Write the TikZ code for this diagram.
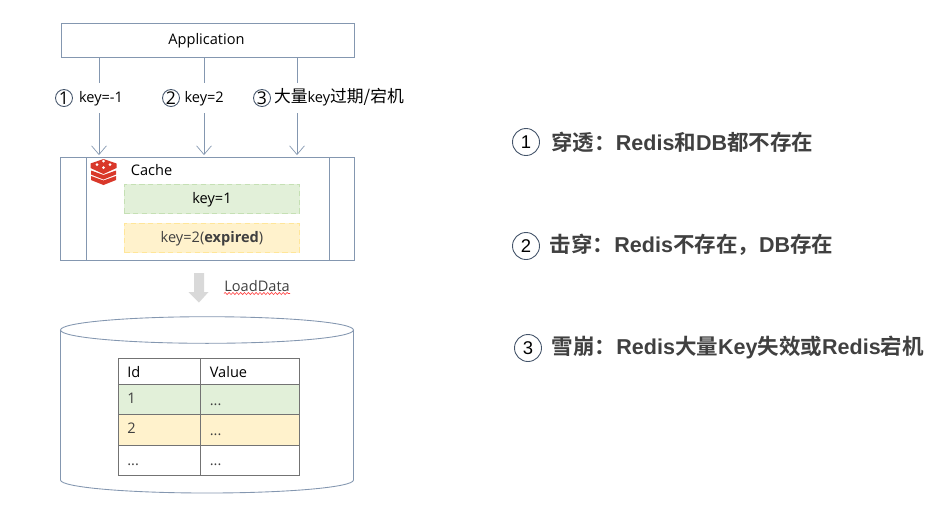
\documentclass[tikz,border=0pt]{standalone}
\usepackage{fontspec}
\setmainfont{Open Sans}
\newfontfamily\cjkfont[Scale=1.15]{Noto Sans CJK SC}
\newfontfamily\headfont{Liberation Sans}
\newfontfamily\cjkbold[BoldFont={* Bold}]{Noto Sans CJK SC}
\usetikzlibrary{arrows.meta,decorations.pathmorphing}

\definecolor{boxline}{HTML}{8497B0}
\definecolor{numline}{HTML}{44546A}
\definecolor{greenfill}{HTML}{E2F0D9}
\definecolor{yellowfill}{HTML}{FFF2CC}
\definecolor{greenedge}{HTML}{C5E0B4}
\definecolor{yellowedge}{HTML}{FFE699}
\definecolor{redislogo}{HTML}{D9382A}
\definecolor{headtext}{HTML}{404040}

\tikzset{
  frame/.style={draw=boxline,line width=0.5pt,fill=white,inner sep=0pt,outer sep=0pt},
  leaf/.style={draw,densely dashed,line width=0.35pt,inner sep=0pt,outer sep=0pt,minimum width=175.5*0.02cm,minimum height=29.5*0.02cm,text height=6.2pt,text depth=0.6pt},
  num/.style={circle,draw=numline,line width=0.5pt,inner sep=0pt,minimum size=17*0.02cm,font=\fontsize{10}{10}\selectfont},
  bignum/.style={num,minimum size=27*0.02cm,font=\headfont\fontsize{10.5}{11}\selectfont},
  keylabel/.style={inner sep=0pt,outer sep=0pt,minimum height=30*0.02cm,anchor=west,text height=6.2pt,text depth=0.6pt},
  head/.style={inner sep=0pt,anchor=west,text=headtext,font=\fontsize{12.25}{14}\selectfont\bfseries},
  cell/.style={draw=black!55,line width=0.5pt,inner sep=0pt,outer sep=0pt,anchor=north west},
  celltext/.style={inner sep=0pt,anchor=west}
}
\newcommand{\zh}[1]{{\cjkfont #1}}
\newcommand{\zhb}[1]{{\cjkbold\bfseries #1}}
\newcommand{\en}[1]{{\headfont\bfseries #1}}

\begin{document}
\begin{tikzpicture}[
    x=0.02cm,y=-0.02cm,
    >={Straight Barb[length=5pt,width=8.5pt]},
    every node/.style={font=\fontsize{8.3}{10}\selectfont}
  ]
    \useasboundingbox (0,0) rectangle (945,508);

    % application and cache
    \node[frame,minimum width=293*0.02cm,minimum height=34*0.02cm] (app) at (207.5,40) {};
    \node at (206.5,40.5) {Application};
    \node[frame,minimum width=293.5*0.02cm,minimum height=103*0.02cm] (cache) at (207.25,208.5) {};
    \draw[boxline,line width=0.5pt] (86,157) -- (86,260);
    \draw[boxline,line width=0.5pt] (329,157) -- (329,260);
    \node at (151.5,170.5) {Cache};
    \node[leaf,draw=greenedge,fill=greenfill] (hit) at (212,199) {key=1};
    \node[leaf,draw=yellowedge,fill=yellowfill,text=black!75] (stale) at (212,238) {key=2(\textbf{expired})};

    % logo
    \fill[redislogo] (91,176) -- (103.5,180.5) -- (116,176) -- (116,180) -- (103.5,185) -- (91,180) -- cycle;
    \fill[redislogo] (91,170.5) -- (103.5,175) -- (116,170.5) -- (116,174.5) -- (103.5,179.5) -- (91,174.5) -- cycle;
    \fill[redislogo] (103.5,159) -- (116.5,163.5) -- (116.5,168) -- (103.5,174) -- (90.5,168) -- (90.5,163.5) -- cycle;
    \fill[white] (103.5,161) circle (1.5) (110,164.5) circle (1.5) (97,164.5) circle (1.5) (103.5,167.5) circle (1.5);

    % keys
    \node[num] (n1) at (64,98) {1};
    \node[keylabel] (k1) at (79,98) {key=-1};
    \node[num] (n2) at (171,98) {2};
    \node[keylabel] (k2) at (184.5,98) {key=2};
    \node[num] (n3) at (262,98) {3};
    \node[keylabel] (k3) at (274,98) {\zh{大量}key\zh{过期/宕机}};
    \draw[boxline] (app.south -| 99,0) -- (k1.north -| 99,0);
    \draw[boxline] (app.south -| 204,0) -- (k2.north -| 204,0);
    \draw[boxline] (app.south -| 297,0) -- (k3.north -| 297,0);
    \draw[->,boxline,shorten >=1.1pt] (k1.south -| 99,0) -- (cache.north -| 99,0);
    \draw[->,boxline,shorten >=1.1pt] (k2.south -| 204,0) -- (cache.north -| 204,0);
    \draw[->,boxline,shorten >=1.1pt] (k3.south -| 297,0) -- (cache.north -| 297,0);

    % load
    \fill[black!15] (194,273) -- (204,273) -- (204,292) -- (208.5,292) -- (199,302.5) -- (188.5,292) -- (194,292) -- cycle;
    \node[inner sep=0pt,anchor=west,text=black!75] (load) at (224,286) {LoadData};
    \draw[red!75,line width=0.35pt,decorate,decoration={snake,amplitude=0.6pt,segment length=2.2pt}]
      (load.west |- 0,293.5) -- (load.east |- 0,293.5);

    % database
    \draw[boxline,line width=0.5pt] (60.5,330) -- (60.5,480) arc[start angle=180,end angle=0,x radius=146.5,y radius=13] -- (353.5,330);
    \draw[boxline,line width=0.5pt] (207,330) ellipse[x radius=146.5,y radius=13.3];

    \node[cell,minimum width=82.5*0.02cm,minimum height=26.5*0.02cm] (id) at (118,358) {};
    \node[cell,minimum width=99*0.02cm,minimum height=26.5*0.02cm] (val) at (200.5,358) {};
    \node[cell,fill=greenfill,minimum width=82.5*0.02cm,minimum height=30*0.02cm] (r1a) at (118,384.5) {};
    \node[cell,fill=greenfill,minimum width=99*0.02cm,minimum height=30*0.02cm] (r1b) at (200.5,384.5) {};
    \node[cell,fill=yellowfill,minimum width=82.5*0.02cm,minimum height=30.5*0.02cm] (r2a) at (118,414.5) {};
    \node[cell,fill=yellowfill,minimum width=99*0.02cm,minimum height=30.5*0.02cm] (r2b) at (200.5,414.5) {};
    \node[cell,minimum width=82.5*0.02cm,minimum height=30*0.02cm] (r3a) at (118,445) {};
    \node[cell,minimum width=99*0.02cm,minimum height=30*0.02cm] (r3b) at (200.5,445) {};
    \node[celltext] at (127,372) {Id};
    \node[celltext] at (209.5,372) {Value};
    \node[celltext,text=black!75] at (127,398) {1};
    \node[celltext,text=black!75] at (209.5,405) {...};
    \node[celltext,text=black!75] at (127,428) {2};
    \node[celltext,text=black!75] at (209.5,435) {...};
    \node[celltext,text=black!75] at (127,465) {...};
    \node[celltext,text=black!75] at (209.5,465) {...};

    % right column
    \node[bignum] (c1) at (526,142) {1};
    \node[head] (h1) at (551,142) {\zhb{穿透：}\en{Redis}\zhb{和}\en{DB}\zhb{都不存在}};
    \node[bignum] (c2) at (526,246) {2};
    \node[head] (h2) at (549.5,245) {\zhb{击穿：}\en{Redis}\zhb{不存在，}\en{DB}\zhb{存在}};
    \node[bignum] (c3) at (528,348) {3};
    \node[head] (h3) at (551.5,348) {\zhb{雪崩：}\en{Redis}\zhb{大量}\en{Key}\zhb{失效或}\en{Redis}\zhb{宕机}};
  \end{tikzpicture}
\end{document}
